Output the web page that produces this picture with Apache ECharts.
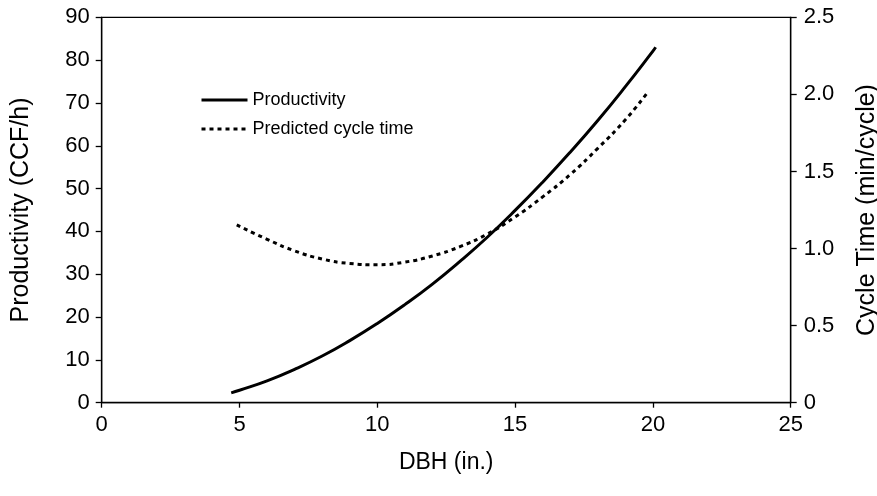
<!DOCTYPE html>
<html>
<head>
<meta charset="utf-8">
<script src="https://cdn.jsdelivr.net/npm/echarts@6/dist/echarts.min.js"></script>
<style>html,body{margin:0;padding:0;background:#fff}#c{width:877px;height:496px}</style>
</head>
<body>
<div id="c"></div>
<script>
// DBH (in.) positions for each series
var prodDbh = [4.7, 5, 6, 7, 8, 9, 10, 11, 12, 13, 14, 15, 16, 17, 18, 19, 20, 20.1];
// Productivity (CCF/h)
var prodValues = [2.3, 2.9, 5.1, 7.8, 10.9, 14.5, 18.5, 22.9, 27.7, 33.0, 38.7, 44.9, 51.5, 58.5, 65.9, 73.8, 82.1, 83.0];
var cycleDbh = [4.9, 6, 7, 8, 9, 10, 11, 12, 13, 14, 15, 16, 17, 18, 19, 19.8];
// Predicted cycle time (min/cycle)
var cycleValues = [1.153, 1.06, 0.985, 0.932, 0.903, 0.895, 0.912, 0.952, 1.012, 1.095, 1.205, 1.335, 1.48, 1.65, 1.835, 2.011];
var seriesNames = ['Productivity', 'Predicted cycle time'];
var xTicks = [0, 5, 10, 15, 20, 25];
var leftTicks = [0, 10, 20, 30, 40, 50, 60, 70, 80, 90];
var rightTicks = [0, 0.5, 1.0, 1.5, 2.0, 2.5];

function pairs(xs, ys) { return xs.map(function (x, i) { return [x, ys[i]]; }); }

var font = 'Liberation Sans, Arial, sans-serif';
var axisLine = { show: true, lineStyle: { color: '#000', width: 1.3 } };
var chart = echarts.init(document.getElementById('c'));
chart.setOption({
  animation: false,
  textStyle: { fontFamily: font, color: '#000' },
  grid: { left: 101.7, right: 86.3, top: 17.3, bottom: 93.3, show: true, borderColor: '#000', borderWidth: 1.3,
          containLabel: false, outerBoundsMode: 'none' },
  legend: {
    orient: 'vertical', left: 195, top: 86,
    itemWidth: 46, itemHeight: 12, itemGap: 11,
    itemStyle: { opacity: 0 },
    lineStyle: { width: 3 },
    textStyle: { fontSize: 18, color: '#000', fontFamily: font },
    data: seriesNames
  },
  xAxis: {
    type: 'value', min: xTicks[0], max: xTicks[xTicks.length - 1], interval: 5,
    name: 'DBH (in.)', nameLocation: 'middle', nameGap: 48,
    nameTextStyle: { fontSize: 23, color: '#000', fontFamily: font },
    axisLine: axisLine, axisTick: { show: true, length: 5, lineStyle: { color: '#000', width: 1.3 } },
    axisLabel: { fontSize: 22, color: '#000', margin: 11, fontFamily: font },
    splitLine: { show: false }
  },
  yAxis: [{
    type: 'value', min: leftTicks[0], max: leftTicks[leftTicks.length - 1], interval: 10,
    name: 'Productivity (CCF/h)', nameLocation: 'middle', nameGap: 68,
    nameTextStyle: { fontSize: 25, color: '#000', fontFamily: font },
    axisLine: axisLine, axisTick: { show: true, length: 6, lineStyle: { color: '#000', width: 1.3 } },
    axisLabel: { fontSize: 22, color: '#000', margin: 12, fontFamily: font },
    splitLine: { show: false }
  }, {
    type: 'value', min: rightTicks[0], max: rightTicks[rightTicks.length - 1], interval: 0.5, position: 'right',
    name: 'Cycle Time (min/cycle)', nameLocation: 'middle', nameGap: 64,
    nameTextStyle: { fontSize: 25, color: '#000', fontFamily: font },
    axisLine: axisLine, axisTick: { show: true, length: 6, lineStyle: { color: '#000', width: 1.3 } },
    axisLabel: { fontSize: 22, color: '#000', margin: 13, fontFamily: font,
      formatter: function (v) { return v === 0 ? '0' : v.toFixed(1); } },
    splitLine: { show: false }
  }],
  series: [{
    name: seriesNames[0], type: 'line', yAxisIndex: 0, smooth: true, symbol: 'none',
    lineStyle: { color: '#000', width: 3 }, itemStyle: { color: '#000' },
    data: pairs(prodDbh, prodValues)
  }, {
    name: seriesNames[1], type: 'line', yAxisIndex: 1, smooth: true, symbol: 'none',
    lineStyle: { color: '#000', width: 3, type: [4, 4] }, itemStyle: { color: '#000' },
    data: pairs(cycleDbh, cycleValues)
  }]
});
</script>
</body>
</html>
